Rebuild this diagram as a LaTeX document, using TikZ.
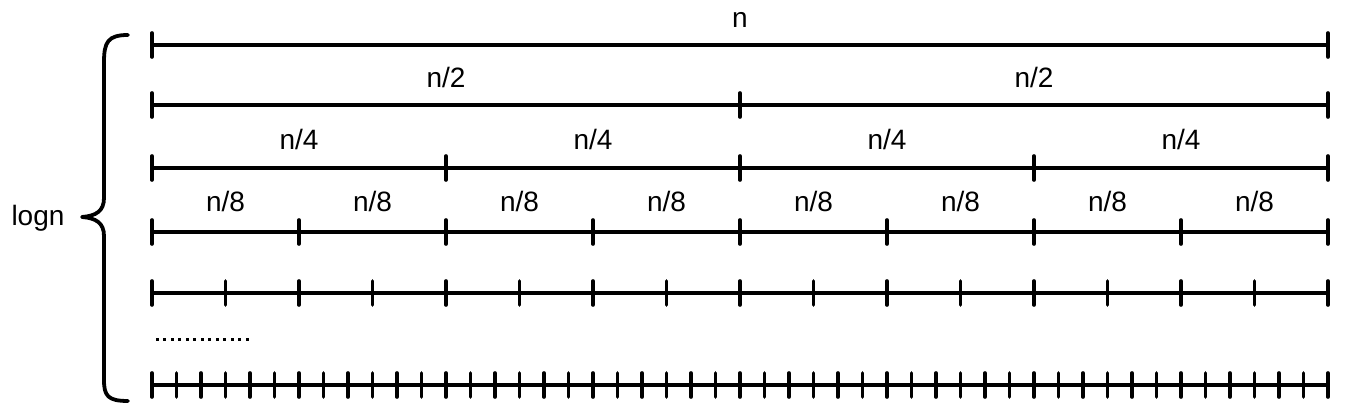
\documentclass[tikz,border=0pt]{standalone}
\usepackage{fontspec}
\setmainfont{Liberation Sans}
\begin{document}
\begin{tikzpicture}[x=0.5pt,y=-0.5pt,
	seg/.style={line width=1.9pt, line cap=round},
	tick/.style={line width=1.8pt, line cap=round},
	lbl/.style={font=\fontsize{14}{16}\selectfont, inner sep=0pt, anchor=base}]
	\useasboundingbox (0,0) rectangle (1345,416);
	% Llave y profundidad
		\draw [seg, line join=round] (128,35) .. controls (108,35) and (104,42) .. (104,62) -- (104,198) .. controls (104,211) and (96,216) .. (82,217)
			.. controls (96,218) and (104,223) .. (104,236) -- (104,380) .. controls (104,396) and (108,401) .. (128,401);
		\node[lbl] (depth) at (38,226) {logn};
	% Nivel superior
		\draw [seg] (152,45) -- (1328,45);
		\foreach \i in {0,1} \draw [tick] ({152+1176*\i},33) -- ++(0,24);
		\node[lbl] (top) at (740,28) {n};
	% Niveles con etiquetas
		\foreach \y/\k/\b in {105/2/88, 168/4/150, 232/8/212}{
			\draw [seg] (152,\y) -- (1328,\y);
			\foreach \i in {0,...,\k} \draw [tick] ({152+1176/\k*\i},\y-12) -- ++(0,24);
			\foreach \i in {1,...,\k} \node[lbl] (n\k-\i) at ({152+1176/\k*(\i-0.5)},\b) {n/\k};
		}
	% Niveles sin etiquetas
		\foreach \y/\k in {293/16, 385/48}{
			\draw [seg] (152,\y) -- (1328,\y);
			\foreach \i in {0,...,\k} \draw [tick] ({152+1176/\k*\i},\y-12) -- ++(0,24);
		}
	% Puntos suspensivos
		\foreach \i in {0,...,12} \fill ({157+7.5*\i-1.5},338.5) rectangle ++(3,3);
\end{tikzpicture}
\end{document}
